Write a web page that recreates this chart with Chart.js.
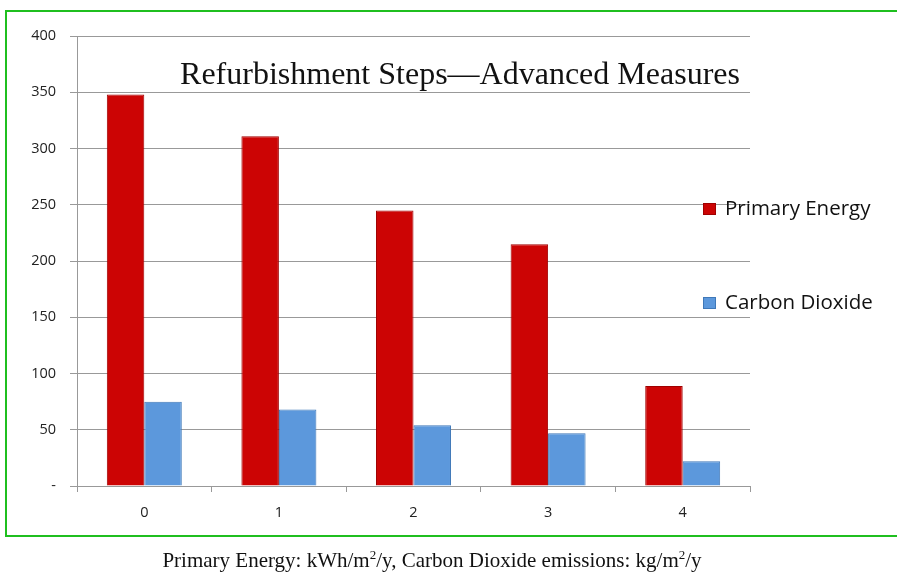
<!DOCTYPE html>
<html>
<head>
<meta charset="utf-8">
<script src="https://cdn.jsdelivr.net/npm/chart.js@4.4.1/dist/chart.umd.min.js"></script>
<style>
  body { margin: 0; background: #fff; }
  #wrap { position: relative; width: 897px; height: 572px; overflow: hidden; }
  #frame { position: absolute; left: 5px; top: 10px; width: 900px; height: 523px; border: 2px solid #1fbf1f; }
  #chart { position: absolute; left: 0; top: 0; }
  #caption {
    position: absolute; left: 0; top: 548px; width: 864px; text-align: center;
    font-family: "Liberation Serif", "Times New Roman", serif; font-size: 21px; color: #111;
  }
  #caption sup { font-size: 13px; vertical-align: 8px; line-height: 0; }
</style>
</head>
<body>
<div id="wrap">
  <div id="frame"></div>
  <canvas id="chart" width="897" height="572"></canvas>
  <div id="caption">Primary Energy: kWh/m<sup>2</sup>/y, Carbon Dioxide emissions: kg/m<sup>2</sup>/y</div>
</div>
<script>
// DATA
const steps = ['0', '1', '2', '3', '4'];
const primaryEnergy = [348, 311, 245, 215, 89];
const carbonDioxide = [75, 68, 54, 47, 22];
const yTicks = [0, 50, 100, 150, 200, 250, 300, 350, 400];

const titleText = 'Refurbishment Steps\u2014Advanced Measures';

// title + legend drawn over the plot
const overlay = {
  id: 'overlay',
  afterDraw(chart) {
    const ctx = chart.ctx;
    ctx.save();
    ctx.fillStyle = '#111';
    ctx.font = '32px "Liberation Serif", "Times New Roman", serif';
    ctx.textAlign = 'center';
    ctx.textBaseline = 'alphabetic';
    ctx.fillText(titleText, 460, 84);

    // legend
    const rows = [209, 303];
    ctx.font = '20.5px "Open Sans", sans-serif';
    ctx.textAlign = 'left';
    ctx.textBaseline = 'middle';
    chart.data.datasets.forEach(function (ds, i) {
      const y = rows[i];
      ctx.fillStyle = ds.backgroundColor;
      ctx.fillRect(703, y - 6, 13, 12);
      ctx.strokeStyle = ds.borderColor;
      ctx.lineWidth = 1;
      ctx.strokeRect(703.5, y - 5.5, 12, 11);
      ctx.fillStyle = '#111';
      ctx.fillText(ds.label, 725, y);
    });
    ctx.restore();
  }
};

const data = {
  labels: steps,
  datasets: [{
    label: 'Primary Energy',
    data: primaryEnergy,
    backgroundColor: '#cc0404',
    borderColor: '#a00000',
    borderWidth: 1
  }, {
    label: 'Carbon Dioxide',
    data: carbonDioxide,
    backgroundColor: '#5c98dc',
    borderColor: '#3f78b8',
    borderWidth: 1
  }]
};

const config = {
  type: 'bar',
  data,
  options: {
    responsive: false,
    animation: false,
    layout: { padding: { left: 0, right: 147, top: 36, bottom: 46 } },
    datasets: { bar: { categoryPercentage: 0.557, barPercentage: 1 } },
    plugins: { legend: { display: false }, tooltip: { enabled: false } },
    scales: {
      x: {
        afterFit(scale) { scale.height = 40; },
        grid: { drawOnChartArea: false, offset: true, tickLength: 6, color: '#999' },
        border: { color: '#999' },
        ticks: { padding: 12, color: '#222', font: { family: 'Open Sans', size: 14.5 } }
      },
      y: {
        min: 0,
        max: 400,
        afterFit(scale) { scale.width = 77; },
        afterBuildTicks(scale) { scale.ticks = yTicks.map(v => ({ value: v })); },
        grid: { color: '#999', tickLength: 7 },
        border: { color: '#999' },
        ticks: {
          padding: 14,
          color: '#222',
          font: { family: 'Open Sans', size: 14.5 },
          callback: v => (v === 0 ? '-' : v)
        }
      }
    }
  },
  plugins: [overlay]
};

const barChart = new Chart(document.getElementById('chart'), config);
</script>
</body>
</html>
